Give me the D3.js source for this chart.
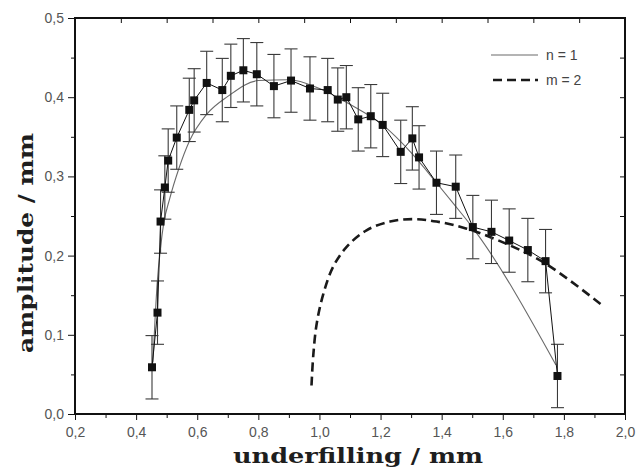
<!DOCTYPE html>
<html>
<head>
<meta charset="utf-8">
<script src="https://cdn.jsdelivr.net/npm/d3@7"></script>
<style>
  html, body { margin: 0; padding: 0; background: #fff; }
  svg { display: block; }
</style>
</head>
<body>
<svg id="chart" width="636" height="471"></svg>
<script>
// Measured amplitude versus underfilling (mm), error bars are ±errAmp
const underfilling = [0.452, 0.470, 0.480, 0.494, 0.505, 0.533, 0.574, 0.590, 0.631, 0.682,
  0.710, 0.751, 0.795, 0.851, 0.907, 0.969, 1.027, 1.060, 1.088, 1.127,
  1.168, 1.207, 1.266, 1.304, 1.326, 1.383, 1.446, 1.502, 1.563, 1.621,
  1.682, 1.740, 1.779];
const amplitude = [0.059, 0.128, 0.243, 0.286, 0.320, 0.349, 0.384, 0.396, 0.418, 0.409,
  0.427, 0.434, 0.429, 0.414, 0.421, 0.411, 0.409, 0.397, 0.400, 0.372,
  0.376, 0.365, 0.331, 0.348, 0.324, 0.292, 0.287, 0.236, 0.230, 0.219,
  0.207, 0.193, 0.048];
const errAmp = 0.04;

// Model curve, n = 1
const fitN1X = [0.455, 0.462, 0.470, 0.480, 0.490, 0.510, 0.540, 0.575, 0.630, 0.700,
  0.800, 0.900, 1.000, 1.100, 1.207, 1.300, 1.383, 1.440, 1.500, 1.774];
const fitN1Y = [0.065, 0.120, 0.170, 0.210, 0.240, 0.272, 0.310, 0.345, 0.378, 0.401,
  0.421, 0.422, 0.411, 0.391, 0.365, 0.330, 0.292, 0.265, 0.236, 0.062];

// Model curve, m = 2
const fitM2X = [0.974, 0.980, 0.991, 1.013, 1.045, 1.089, 1.154, 1.231, 1.307, 1.383,
  1.482, 1.623, 1.740, 1.923];
const fitM2Y = [0.036, 0.075, 0.114, 0.152, 0.186, 0.211, 0.232, 0.243, 0.246, 0.243,
  0.234, 0.213, 0.190, 0.138];

const xTickValues = [0.2, 0.4, 0.6, 0.8, 1.0, 1.2, 1.4, 1.6, 1.8, 2.0];
const yTickValues = [0.0, 0.1, 0.2, 0.3, 0.4, 0.5];
const legendLabels = ["n = 1", "m = 2"];

(function draw() {
  const svg = d3.select("#chart");
  const pLeft = 75, pRight = 625, pTop = 18, pBottom = 414;

  const x = d3.scaleLinear().domain([0.2, 2.0]).range([pLeft, pRight]);
  const y = d3.scaleLinear().domain([0.0, 0.5]).range([pBottom, pTop]);
  const fmt = v => d3.format(".1f")(v).replace(".", ",");

  svg.append("clipPath").attr("id", "plotClip")
    .append("rect").attr("x", pLeft).attr("y", pTop)
    .attr("width", pRight - pLeft).attr("height", pBottom - pTop);

  const axisColor = "#111";
  const labelColor = "#555";

  // bottom: labelled every 0.2, minor every 0.1
  const xMinor = d3.range(0.3, 2.0, 0.2);
  svg.append("g").attr("transform", `translate(0,${pBottom})`)
    .call(d3.axisBottom(x).tickValues(xTickValues).tickFormat(fmt)
      .tickSizeInner(6).tickSizeOuter(0).tickPadding(7));
  svg.append("g").attr("transform", `translate(0,${pBottom})`)
    .call(d3.axisBottom(x).tickValues(xMinor).tickFormat("").tickSizeInner(4).tickSizeOuter(0));

  // left: labelled every 0.1, minor every 0.05
  const yMinor = d3.range(0.05, 0.5, 0.1);
  svg.append("g").attr("transform", `translate(${pLeft},0)`)
    .call(d3.axisLeft(y).tickValues(yTickValues).tickFormat(fmt)
      .tickSizeInner(7).tickSizeOuter(0).tickPadding(4));
  svg.append("g").attr("transform", `translate(${pLeft},0)`)
    .call(d3.axisLeft(y).tickValues(yMinor).tickFormat("").tickSizeInner(4).tickSizeOuter(0));

  // top: inward ticks, 12 intervals
  const xTop = d3.range(0, 13).map(k => 0.2 + k * 0.15);
  svg.append("g").attr("transform", `translate(0,${pTop})`)
    .call(d3.axisBottom(x).tickValues(xTop).tickFormat("").tickSizeInner(5).tickSizeOuter(0));

  // right: inward ticks every 0.05
  const yRight = d3.range(1, 10).map(k => k * 0.05);
  svg.append("g").attr("transform", `translate(${pRight},0)`)
    .call(d3.axisLeft(y).tickValues(yRight).tickFormat("").tickSizeInner(5).tickSizeOuter(0));

  svg.selectAll(".domain").remove();
  svg.selectAll(".tick line").attr("stroke", axisColor).attr("stroke-width", 1);
  svg.selectAll(".tick text")
    .attr("fill", labelColor)
    .style("font-family", "'Liberation Sans', Arial, sans-serif")
    .style("font-size", "14px");

  // frame
  svg.append("rect")
    .attr("x", pLeft).attr("y", pTop).attr("width", pRight - pLeft).attr("height", pBottom - pTop)
    .attr("fill", "none").attr("stroke", axisColor).attr("stroke-width", 2);

  // ---- plot contents ----
  const plot = svg.append("g").attr("clip-path", "url(#plotClip)");
  const pts = underfilling.map((u, i) => [u, amplitude[i]]);

  // n = 1 model
  plot.append("path")
    .attr("d", d3.line().x(d => x(d[0])).y(d => y(d[1])).curve(d3.curveMonotoneX)(d3.zip(fitN1X, fitN1Y)))
    .attr("fill", "none").attr("stroke", "#6a6a6a").attr("stroke-width", 1.1);

  // m = 2 model
  plot.append("path")
    .attr("d", d3.line().x(d => x(d[0])).y(d => y(d[1])).curve(d3.curveCatmullRom)(d3.zip(fitM2X, fitM2Y)))
    .attr("fill", "none").attr("stroke", "#1a1a1a").attr("stroke-width", 2.6)
    .attr("stroke-dasharray", "9,5");

  // error bars
  const cap = 6.5;
  const eb = plot.append("g").attr("stroke", "#3a3a3a").attr("stroke-width", 1.1);
  pts.forEach(([u, a]) => {
    const cx = x(u), y1 = y(a - errAmp), y2 = y(a + errAmp);
    eb.append("line").attr("x1", cx).attr("x2", cx).attr("y1", y1).attr("y2", y2);
    eb.append("line").attr("x1", cx - cap).attr("x2", cx + cap).attr("y1", y1).attr("y2", y1);
    eb.append("line").attr("x1", cx - cap).attr("x2", cx + cap).attr("y1", y2).attr("y2", y2);
  });

  // measured points joined
  plot.append("path")
    .attr("d", d3.line().x(d => x(d[0])).y(d => y(d[1]))(pts))
    .attr("fill", "none").attr("stroke", "#111").attr("stroke-width", 1);

  const sq = 8;
  plot.selectAll("rect.pt").data(pts).enter().append("rect")
    .attr("class", "pt")
    .attr("x", d => x(d[0]) - sq / 2).attr("y", d => y(d[1]) - sq / 2)
    .attr("width", sq).attr("height", sq).attr("fill", "#111");

  // ---- legend ----
  const lg = svg.append("g");
  const legendY = [55, 80];
  lg.append("line").attr("x1", 491).attr("x2", 538).attr("y1", legendY[0]).attr("y2", legendY[0])
    .attr("stroke", "#6a6a6a").attr("stroke-width", 1.2);
  lg.append("line").attr("x1", 493).attr("x2", 538).attr("y1", legendY[1]).attr("y2", legendY[1])
    .attr("stroke", "#1a1a1a").attr("stroke-width", 2.6).attr("stroke-dasharray", "9,5");
  legendLabels.forEach((t, i) => {
    lg.append("text").attr("x", 546).attr("y", legendY[i] + 5)
      .attr("fill", "#444")
      .style("font-family", "'Liberation Sans', Arial, sans-serif").style("font-size", "14px")
      .text(t);
  });

  // ---- axis titles ----
  const titleFont = "'DejaVu Serif', 'Liberation Serif', serif";
  svg.append("text")
    .attr("x", 358).attr("y", 463).attr("text-anchor", "middle")
    .attr("fill", "#1e1e1e")
    .attr("textLength", 250).attr("lengthAdjust", "spacingAndGlyphs")
    .style("font-family", titleFont)
    .style("font-weight", "bold").style("font-size", "21px")
    .text("underfilling / mm");

  svg.append("text")
    .attr("transform", "translate(33,243) rotate(-90)")
    .attr("text-anchor", "middle")
    .attr("fill", "#1e1e1e")
    .attr("textLength", 220).attr("lengthAdjust", "spacingAndGlyphs")
    .style("font-family", titleFont)
    .style("font-weight", "bold").style("font-size", "21px")
    .text("amplitude / mm");
})();
</script>
</body>
</html>
